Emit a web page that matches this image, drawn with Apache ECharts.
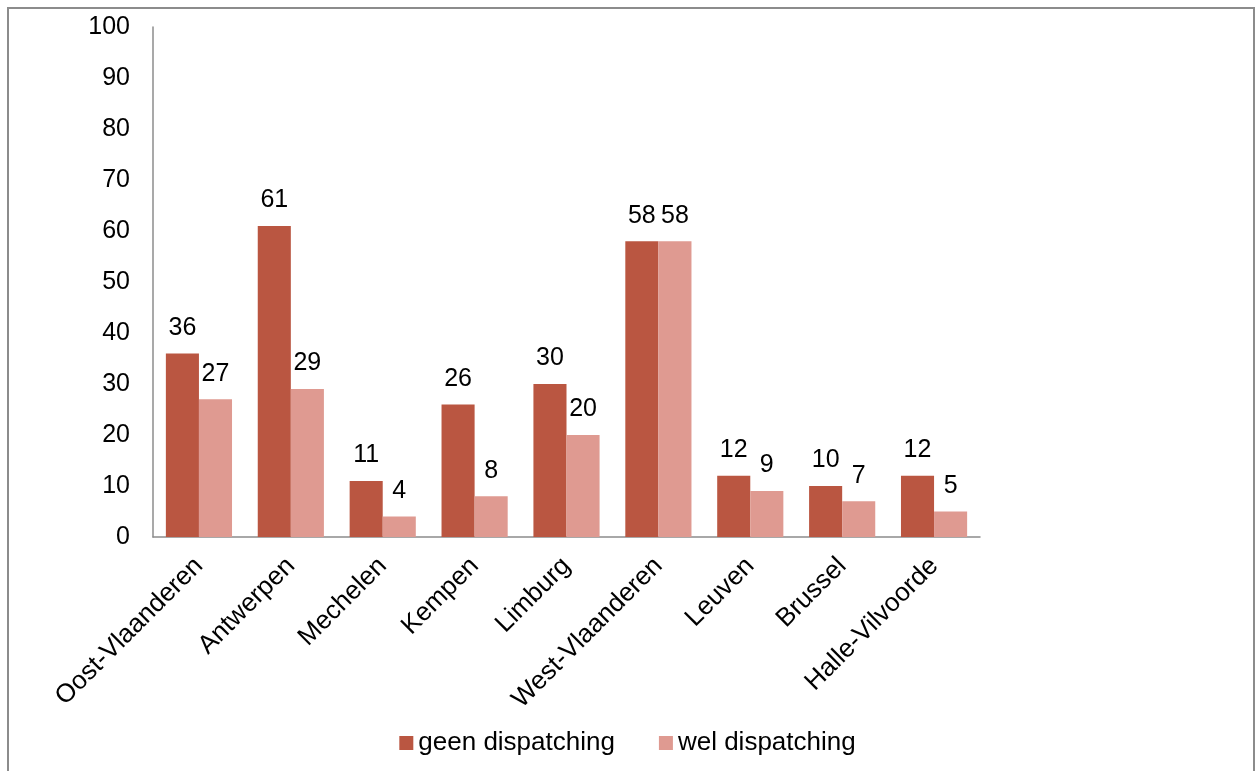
<!DOCTYPE html>
<html><head><meta charset="utf-8">
<script src="https://cdn.jsdelivr.net/npm/echarts@6/dist/echarts.min.js"></script>
<style>html,body{margin:0;padding:0;background:#fff}#c{width:1255px;height:771px}</style>
</head><body><div id="c"></div>
<script>
const categories = ['Oost-Vlaanderen','Antwerpen','Mechelen','Kempen','Limburg','West-Vlaanderen','Leuven','Brussel','Halle-Vilvoorde'];
const geenDispatching = [36,61,11,26,30,58,12,10,12];
const welDispatching = [27,29,4,8,20,58,9,7,5];
const seriesNames = ['geen dispatching','wel dispatching'];
const font = 'Liberation Sans, Arial, sans-serif';
const chart = echarts.init(document.getElementById('c'), null, {renderer:'canvas'});
const lbl = {show:true, position:'top', distance:13, color:'#000', fontSize:25, fontFamily:font};
chart.setOption({
  animation:false,
  backgroundColor:'#fff',
  graphic:[{type:'rect', shape:{x:8,y:8,width:1246,height:790}, style:{fill:'none', stroke:'#8c8c8c', lineWidth:2}, silent:true}],
  grid:{left:153, right:275, top:27, bottom:234, containLabel:false},
  legend:{bottom:10, left:'center', itemWidth:14, itemHeight:14, itemGap:44, icon:'rect',
    textStyle:{fontSize:26, fontFamily:font, color:'#000'}, data:seriesNames},
  xAxis:{type:'category', data:categories,
    axisLine:{lineStyle:{color:'#8c8c8c', width:1.5}}, axisTick:{show:false},
    axisLabel:{rotate:45, interval:0, color:'#000', fontSize:26, fontFamily:font, margin:25}},
  yAxis:{type:'value', min:0, max:100, interval:10,
    axisLine:{show:true, lineStyle:{color:'#8c8c8c', width:1.5}}, axisTick:{show:false},
    splitLine:{show:false},
    axisLabel:{color:'#000', fontSize:25, fontFamily:font, margin:23}},
  series:[
    {name:seriesNames[0], type:'bar', data:geenDispatching, barGap:'0%', barCategoryGap:'28%',
     itemStyle:{color:'#BA5641'}, label:lbl},
    {name:seriesNames[1], type:'bar', data:welDispatching,
     itemStyle:{color:'#DF9A91'}, label:lbl}
  ]
});
</script></body></html>
